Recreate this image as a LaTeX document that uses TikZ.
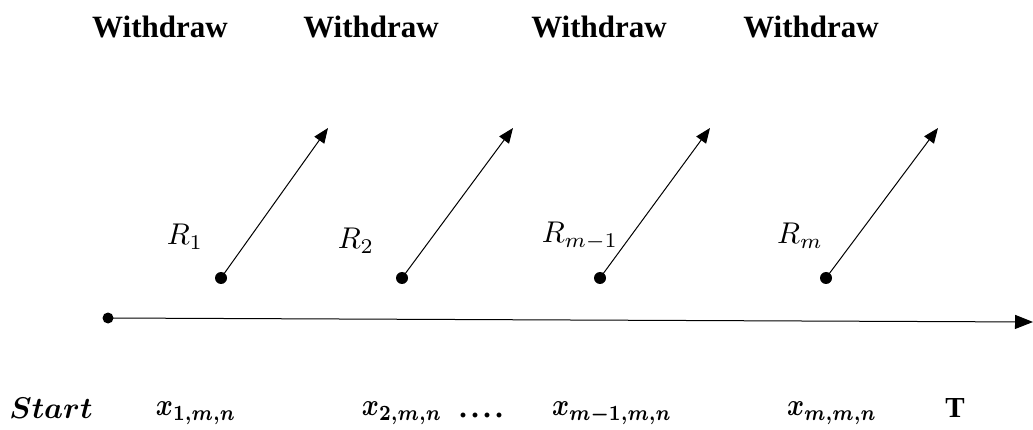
\documentclass[tikz,border=0pt]{standalone}
\usepackage{amsmath,bm,graphicx}
\usepackage{fontspec}
\setmainfont{Liberation Serif}
\usetikzlibrary{arrows.meta}
\newcommand{\mysm}[3]{\scalebox{#1}[#2]{$#3$}}
\begin{document}
\begin{tikzpicture}[x=1pt,y=-1pt,
  wd/.style={font=\fontsize{31}{36}\selectfont\bfseries, inner sep=0pt},
  rl/.style={inner sep=0pt},
  bl/.style={inner sep=0pt},
  dot/.style={circle, fill=black, inner sep=0pt, minimum size=12pt},
  warrow/.style={line width=1pt, -{Triangle[length=15pt,width=12pt]}},
  tarrow/.style={line width=1pt, -{Triangle[length=18pt,width=14pt]}}]
\useasboundingbox (0,0) rectangle (1033,430);
% Withdraw labels
\node[wd] (w1) at (160,27) {Withdraw};
\node[wd] (w2) at (371,27) {Withdraw};
\node[wd] (w3) at (599,27) {Withdraw};
\node[wd] (w4) at (811,27) {Withdraw};
% withdrawal points and arrows
\node[dot] (d1) at (221,278) {};
\node[dot] (d2) at (402,278) {};
\node[dot] (d3) at (600,278) {};
\node[dot] (d4) at (826,278) {};
\coordinate (e1) at (328,128);
\coordinate (e2) at (513,128);
\coordinate (e3) at (710,128);
\coordinate (e4) at (938,128);
\draw[warrow] (d1.center) -- (e1);
\draw[warrow] (d2.center) -- (e2);
\draw[warrow] (d3.center) -- (e3);
\draw[warrow] (d4.center) -- (e4);
% R labels
\node[rl] (r1) at (185,237) {\mysm{3}{3}{R_1}};
\node[rl] (r2) at (356,241) {\mysm{3}{3}{R_2}};
\node[rl] (r3) at (580,236) {\mysm{3}{3}{R_{m-1}}};
\node[rl] (r4) at (800,236) {\mysm{3}{3}{R_m}};
% timeline
\node[circle, fill=black, inner sep=0pt, minimum width=11pt, minimum height=8pt] (s) at (108,318) {};
\coordinate (t) at (1033,322);
\draw[tarrow] (s.center) -- (t);
% bottom labels
\node[bl] (b0) at (51,408) {\mysm{3}{3}{\bm{Start}}};
\node[bl] (b1) at (196,413) {\mysm{2.6}{3.1}{\bm{x_{1,m,n}}}};
\node[bl] (b2) at (402,413) {\mysm{2.6}{3.1}{\bm{x_{2,m,n}}}};
\node[bl, font=\fontsize{30}{34}\selectfont\bfseries, anchor=base] (b3) at (481,417) {.\hspace{4.5pt}.\hspace{4.5pt}.\hspace{4.5pt}.};
\node[bl] (b4) at (612,413) {\mysm{2.6}{3.1}{\bm{x_{m-1,m,n}}}};
\node[bl] (b5) at (832,413) {\mysm{2.6}{3.1}{\bm{x_{m,m,n}}}};
\node[bl, font=\fontsize{29}{34}\selectfont\bfseries] (b6) at (955,408) {T};
\end{tikzpicture}
\end{document}
